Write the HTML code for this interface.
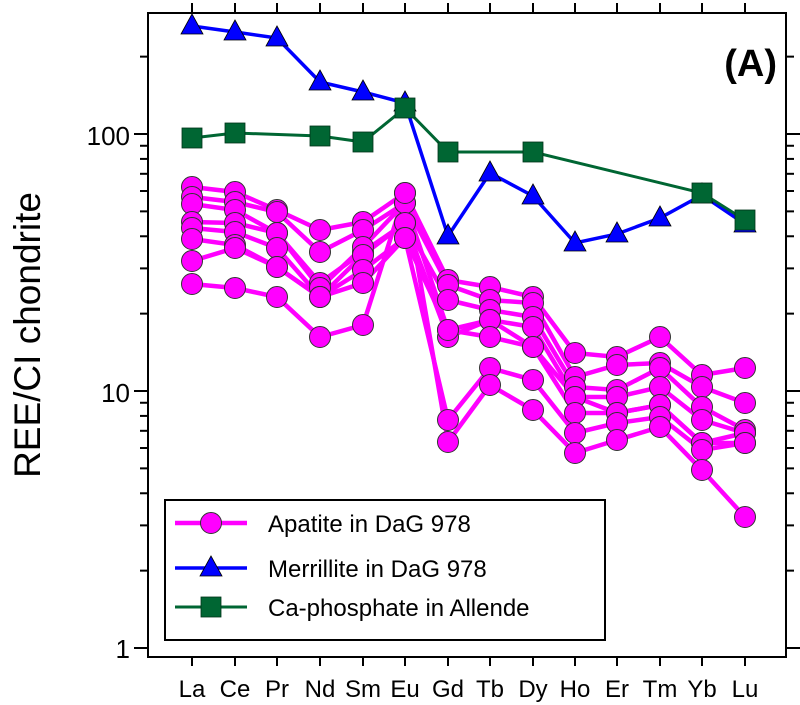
<!DOCTYPE html>
<html><head><meta charset="utf-8"><style>
html,body{margin:0;padding:0;background:#fff}
svg{display:block;font-family:"Liberation Sans",Arial,sans-serif}
</style></head><body>
<svg id="s" width="800" height="705" viewBox="0 0 800 705" xmlns="http://www.w3.org/2000/svg">
<rect x="0" y="0" width="800" height="705" fill="#fff"/>
<g id="ticks" stroke="#000" stroke-width="2"></g>
<g id="data"></g>
<rect x="148" y="13" width="638" height="644" fill="none" stroke="#000" stroke-width="2"/>
<text x="777" y="76" font-size="38" font-weight="bold" text-anchor="end">(A)</text>
<g font-size="26" text-anchor="end">
<text x="130" y="145">100</text>
<text x="130" y="402">10</text>
<text x="130" y="658">1</text>
</g>
<text transform="translate(40,335) rotate(-90)" font-size="37" text-anchor="middle">REE/CI chondrite</text>
<g font-size="24" text-anchor="middle">
<text x="192" y="697">La</text><text x="235" y="697">Ce</text><text x="277" y="697">Pr</text>
<text x="320" y="697">Nd</text><text x="363" y="697">Sm</text><text x="405" y="697">Eu</text>
<text x="448" y="697">Gd</text><text x="490" y="697">Tb</text><text x="533" y="697">Dy</text>
<text x="575" y="697">Ho</text><text x="617" y="697">Er</text><text x="660" y="697">Tm</text>
<text x="702" y="697">Yb</text><text x="745" y="697">Lu</text>
</g>
<rect x="165" y="500" width="440" height="140" fill="#fff" stroke="#000" stroke-width="2"/>
<g id="leg"></g>
<g font-size="24">
<text x="268" y="532">Apatite in DaG 978</text>
<text x="268" y="577">Merrillite in DaG 978</text>
<text x="268" y="616">Ca-phosphate in Allende</text>
</g>
</svg>
<script>
var NS="http://www.w3.org/2000/svg";
function el(p,n,a){var e=document.createElementNS(NS,n);for(var k in a)e.setAttribute(k,a[k]);p.appendChild(e);return e;}
var T=document.getElementById('ticks'),D=document.getElementById('data'),L=document.getElementById('leg');
var X=[192,235,277,320,363,405,448,490,533,575,617,660,702,745];
X.forEach(function(x){el(T,'line',{x1:x,y1:13,x2:x,y2:3});el(T,'line',{x1:x,y1:657,x2:x,y2:666});});
function Y(v){return 648-257*Math.log10(v);}
for(var d=0;d<3;d++){for(var m=1;m<10;m++){var v=m*Math.pow(10,d);var y=Y(v);if(y<13||y>657)continue;
var len=m==1?14:8;el(T,'line',{x1:148,y1:y,x2:148-len,y2:y});el(T,'line',{x1:786,y1:y,x2:786+len,y2:y});}}
var ap=[[187,192,210,222,193,280,287,297,353,357,337,375,368],
[197,202,212,230,203,285,300,303,377,365,363,387,403],
[204,210,233,252,223,300,310,317,387,390,368,407,430],
[222,223,233,247,203,330,320,327,397,397,387,420,433],
[228,232,248,255,223,337,320,347,397,413,405,443,433],
[239,245,267,270,238,330,337,347,413,413,405,443,443],
[261,248,267,283,238,420,368,380,433,423,417,450,443],
[284,288,297,325,193,442,385,410,453,440,427,470,517]];
var ndv=[230,252,283,288,297,297,297,337];
var series=ap.map(function(r,i){return [r[0],r[1],r[2],ndv[i],r[3],r[4],r[5],r[6],r[7],r[8],r[9],r[10],r[11],r[12]];});
function circ(p,x,y){el(p,'circle',{cx:x,cy:y,r:10.5,fill:'#ff00ff',stroke:'#333',"stroke-width":1});}
function tri(p,x,y){el(p,'polygon',{points:(x)+','+(y-12)+' '+(x-11)+','+(y+8)+' '+(x+11)+','+(y+8),fill:'#0000ff',stroke:'#000',"stroke-width":0.8});}
function sq(p,x,y){el(p,'rect',{x:x-10,y:y-10,width:20,height:20,fill:'#006633',stroke:'#003318',"stroke-width":0.8});}
series.forEach(function(s){el(D,'polyline',{points:s.map(function(y,i){return X[i]+','+y}).join(' '),fill:'none',stroke:'#ff00ff',"stroke-width":4.5});});
series.forEach(function(s){s.forEach(function(y,i){circ(D,X[i],y);});});
var mer=[26,32,38,82,92,103,236,173,196,243,234,218,195,224];
el(D,'polyline',{points:mer.map(function(y,i){return X[i]+','+y}).join(' '),fill:'none',stroke:'#0000ff',"stroke-width":3.5});
var gx=[0,1,3,4,5,6,8,12,13],gy=[138,133,136,142,108,152,152,193,220];
el(D,'polyline',{points:gx.map(function(i,k){return X[i]+','+gy[k]}).join(' '),fill:'none',stroke:'#006633',"stroke-width":3});
mer.forEach(function(y,i){tri(D,X[i],y);});
gx.forEach(function(i,k){sq(D,X[i],gy[k]);});
[[523,'#ff00ff',circ,4.5],[568,'#0000ff',tri,3.5],[607,'#006633',sq,3]].forEach(function(r){
el(L,'line',{x1:175,y1:r[0],x2:247,y2:r[0],stroke:r[1],"stroke-width":r[3]});r[2](L,211,r[0]);});
</script>
</body></html>
